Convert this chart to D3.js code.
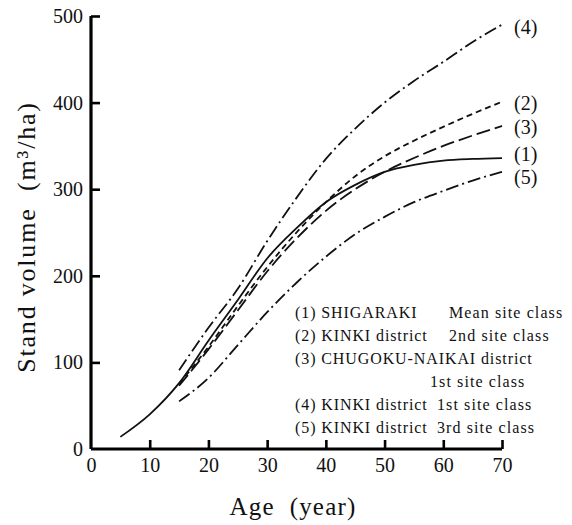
<!DOCTYPE html>
<html>
<head>
<meta charset="utf-8">
<script src="https://cdn.jsdelivr.net/npm/d3@7"></script>
<style>
  body { margin: 0; background: #fff; }
  text { font-family: "Liberation Serif", "DejaVu Serif", serif; fill: #111; }
</style>
</head>
<body>
<div id="chart"></div>
<script>
// ages (years) and stand volume (m3/ha)
const ages1 = [5, 10, 15, 20, 25, 30, 35, 40, 45, 50, 55, 60, 65, 70];
const vol1 = [14, 40, 76, 125, 172, 220, 255, 285, 305, 320, 328, 333, 335, 336];

const ages2to5 = [15, 20, 25, 30, 35, 40, 45, 50, 55, 60, 65, 70];
const vol2 = [75, 118, 165, 210, 250, 285, 315, 338, 356, 372, 387, 401];
const vol3 = [73, 115, 160, 205, 243, 275, 300, 320, 336, 350, 362, 373];
const vol4 = [91, 140, 185, 240, 290, 335, 370, 400, 425, 447, 470, 490];
const vol5 = [55, 82, 120, 158, 192, 222, 248, 268, 285, 298, 310, 320];

const xTicks = [0, 10, 20, 30, 40, 50, 60, 70];
const yTicks = [0, 100, 200, 300, 400, 500];

const legendRows = [
  ["(1) SHIGARAKI", "Mean site class"],
  ["(2) KINKI district", "2nd site class"],
  ["(3) CHUGOKU-NAIKAI district", ""],
  ["", "1st site class"],
  ["(4) KINKI district", "1st site class"],
  ["(5) KINKI district", "3rd site class"]
];

const series = [
  { id: "(1)", ages: ages1, vol: vol1, dash: null },
  { id: "(2)", ages: ages2to5, vol: vol2, dash: "6,4" },
  { id: "(3)", ages: ages2to5, vol: vol3, dash: "14,5" },
  { id: "(4)", ages: ages2to5, vol: vol4, dash: "13,4,2,4" },
  { id: "(5)", ages: ages2to5, vol: vol5, dash: "13,4,2,4" }
];

const width = 572, height = 525;
const svg = d3.select("#chart").append("svg")
  .attr("width", width)
  .attr("height", height);

const x = d3.scaleLinear().domain([0, 70]).range([91, 502]);
const y = d3.scaleLinear().domain([0, 500]).range([449, 16]);

// x axis (ticks point inward)
const xAxis = svg.append("g")
  .attr("transform", `translate(0,${y(0)})`)
  .call(d3.axisBottom(x).tickValues(xTicks).tickSize(-9).tickPadding(8).tickSizeOuter(0));
xAxis.select(".domain").attr("stroke-width", 3.2).attr("d", `M${x(0)},0H${x(70)}`);
xAxis.selectAll(".tick line").attr("stroke-width", 2.6);
xAxis.selectAll(".tick text").attr("font-size", 20)
  .attr("font-family", "Liberation Serif").attr("dy", "0.75em").attr("y", 8);

// y axis
const yAxis = svg.append("g")
  .attr("transform", `translate(${x(0)},0)`)
  .call(d3.axisLeft(y).tickValues(yTicks).tickSize(-9).tickPadding(8).tickSizeOuter(0));
yAxis.select(".domain").attr("stroke-width", 3.2).attr("d", `M0,${y(0)}V${y(500)}`);
yAxis.selectAll(".tick line").attr("stroke-width", 2.6);
yAxis.selectAll(".tick text").attr("font-size", 20)
  .attr("font-family", "Liberation Serif");
yAxis.selectAll(".tick").filter(d => d === 0).select("line").remove();
xAxis.selectAll(".tick").filter(d => d === 0).select("line").remove();

// axis titles
svg.append("text")
  .attr("x", 293).attr("y", 515)
  .attr("text-anchor", "middle")
  .attr("font-size", 25)
  .attr("letter-spacing", 1.2)
  .attr("xml:space", "preserve")
  .text("Age  (year)");

svg.append("text")
  .attr("transform", "translate(35,237) rotate(-90)")
  .attr("text-anchor", "middle")
  .attr("font-size", 26)
  .attr("letter-spacing", 1.8)
  .attr("xml:space", "preserve")
  .text("Stand volume  (m³/ha)");

// curves
const line = d3.line()
  .x(d => x(d[0]))
  .y(d => y(d[1]))
  .curve(d3.curveMonotoneX);

series.forEach(s => {
  const pts = s.ages.map((a, i) => [a, s.vol[i]]);
  svg.append("path")
    .datum(pts)
    .attr("fill", "none")
    .attr("stroke", "#111")
    .attr("stroke-width", 1.8)
    .attr("stroke-dasharray", s.dash)
    .attr("d", line);
});

// end labels
const endLabelY = { "(4)": 27, "(2)": 103, "(3)": 127, "(1)": 154, "(5)": 177 };
series.forEach(s => {
  svg.append("text")
    .attr("x", 514)
    .attr("y", endLabelY[s.id])
    .attr("dy", "0.35em")
    .attr("font-size", 20)
    .text(s.id);
});

// legend
const rowY = [312, 335, 358, 381, 404, 427];
const col2X = [449, 449, 447, 430, 437, 437];
legendRows.forEach((r, i) => {
  svg.append("text")
    .attr("x", 295).attr("y", rowY[i]).attr("dy", "0.35em")
    .attr("font-size", 16)
    .attr("letter-spacing", 0.9)
    .text(r[0]);
  svg.append("text")
    .attr("x", col2X[i]).attr("y", rowY[i]).attr("dy", "0.35em")
    .attr("font-size", 16)
    .attr("letter-spacing", 1.1)
    .text(r[1]);
});
</script>
</body>
</html>
